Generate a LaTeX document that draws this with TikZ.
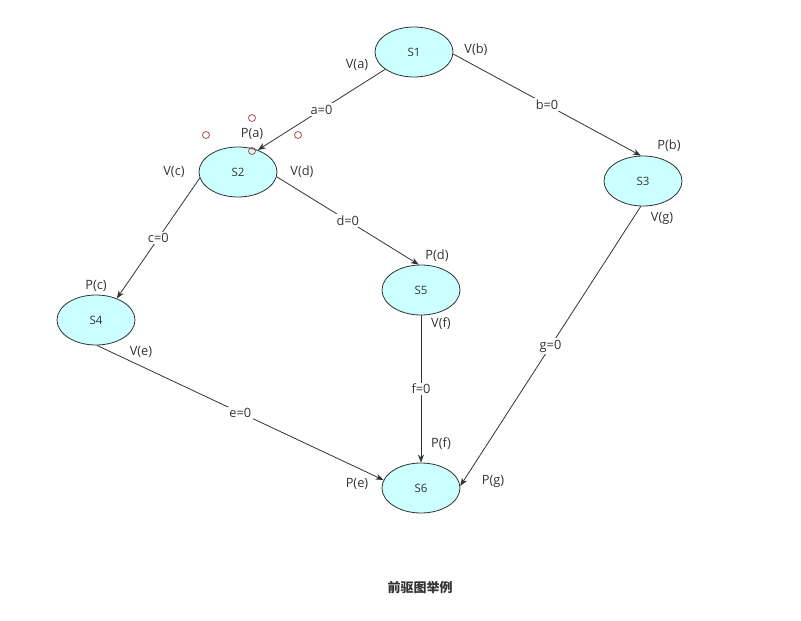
\documentclass[tikz,border=0pt]{standalone}
\usepackage{fontspec}
\setmainfont{Open Sans}
\newfontfamily\cjkfont{Noto Sans CJK SC}
\usetikzlibrary{arrows.meta,shapes.geometric}
\definecolor{statefill}{HTML}{CCFFFF}
\definecolor{linegray}{HTML}{333333}
\definecolor{handlered}{HTML}{A8504C}
\tikzset{
  state/.style={ellipse, draw=linegray, fill=statefill, line width=0.8pt,
    minimum width=78pt, minimum height=50pt, inner sep=0pt,
    font=\fontsize{11.5}{13}\selectfont, text=linegray},
  lbl/.style={font=\fontsize{12.8}{15}\selectfont, text=linegray, inner sep=1pt},
  elbl/.style={lbl, fill=white, inner sep=1.5pt},
  conn/.style={draw=linegray, line width=0.8pt, -{Stealth[length=8pt,width=6pt]}},
  handle/.style={circle, draw=handlered, line width=0.8pt, minimum size=7pt, inner sep=0pt}
}
\begin{document}
\begin{tikzpicture}[x=1pt,y=-1pt]
\useasboundingbox (0,0) rectangle (801,621);
% states
\node[state] (S1) at (414,52) {S1};
\node[state] (S2) at (238,172) {S2};
\node[state] (S3) at (643,181) {S3};
\node[state] (S4) at (96,320) {S4};
\node[state] (S5) at (421,290) {S5};
\node[state] (S6) at (421,488) {S6};
% transitions
\draw[conn] (S1.211) -- node[elbl] (ea) {a=0} (S2.48);
\draw[conn] (S1.357) -- node[elbl] (eb) {b=0} (S3.95);
\draw[conn] (S2.189) -- node[elbl] (ec) {c=0} (S4.46);
\draw[conn] (S2.353) -- node[elbl] (ed) {d=0} (S5.95);
\draw[conn] (S4.272) -- node[elbl] (ee) {e=0} (S6.168);
\draw[conn] (S5.south) -- node[elbl] (ef) {f=0} (S6.north);
\draw[conn] (S3.265) -- node[elbl] (eg) {g=0} (S6.3);
% port labels
\node[lbl] (Va) at (357,65) {V(a)};
\node[lbl] (Vb) at (476,50) {V(b)};
\node[lbl] (Pa) at (252,134) {P(a)};
\node[lbl] (Pb) at (669,146) {P(b)};
\node[lbl] (Vc) at (174,172) {V(c)};
\node[lbl] (Vd) at (302,172) {V(d)};
\node[lbl] (Vg) at (662,218) {V(g)};
\node[lbl] (Pd) at (437,256) {P(d)};
\node[lbl] (Pc) at (96,286) {P(c)};
\node[lbl] (Vf) at (441,324) {V(f)};
\node[lbl] (Ve) at (141,352) {V(e)};
\node[lbl] (Pf) at (441,444) {P(f)};
\node[lbl] (Pe) at (357,484) {P(e)};
\node[lbl] (Pg) at (493,481) {P(g)};
% selection handles around P(a)
\node[handle] (h1) at (206,135) {};
\node[handle] (h2) at (252,118) {};
\node[handle] (h3) at (298,135) {};
\node[handle] (h4) at (252,151) {};
% caption
\node[font=\cjkfont\bfseries\fontsize{13}{15}\selectfont, text=linegray] (cap) at (420,588) {前驱图举例};
\end{tikzpicture}
\end{document}
